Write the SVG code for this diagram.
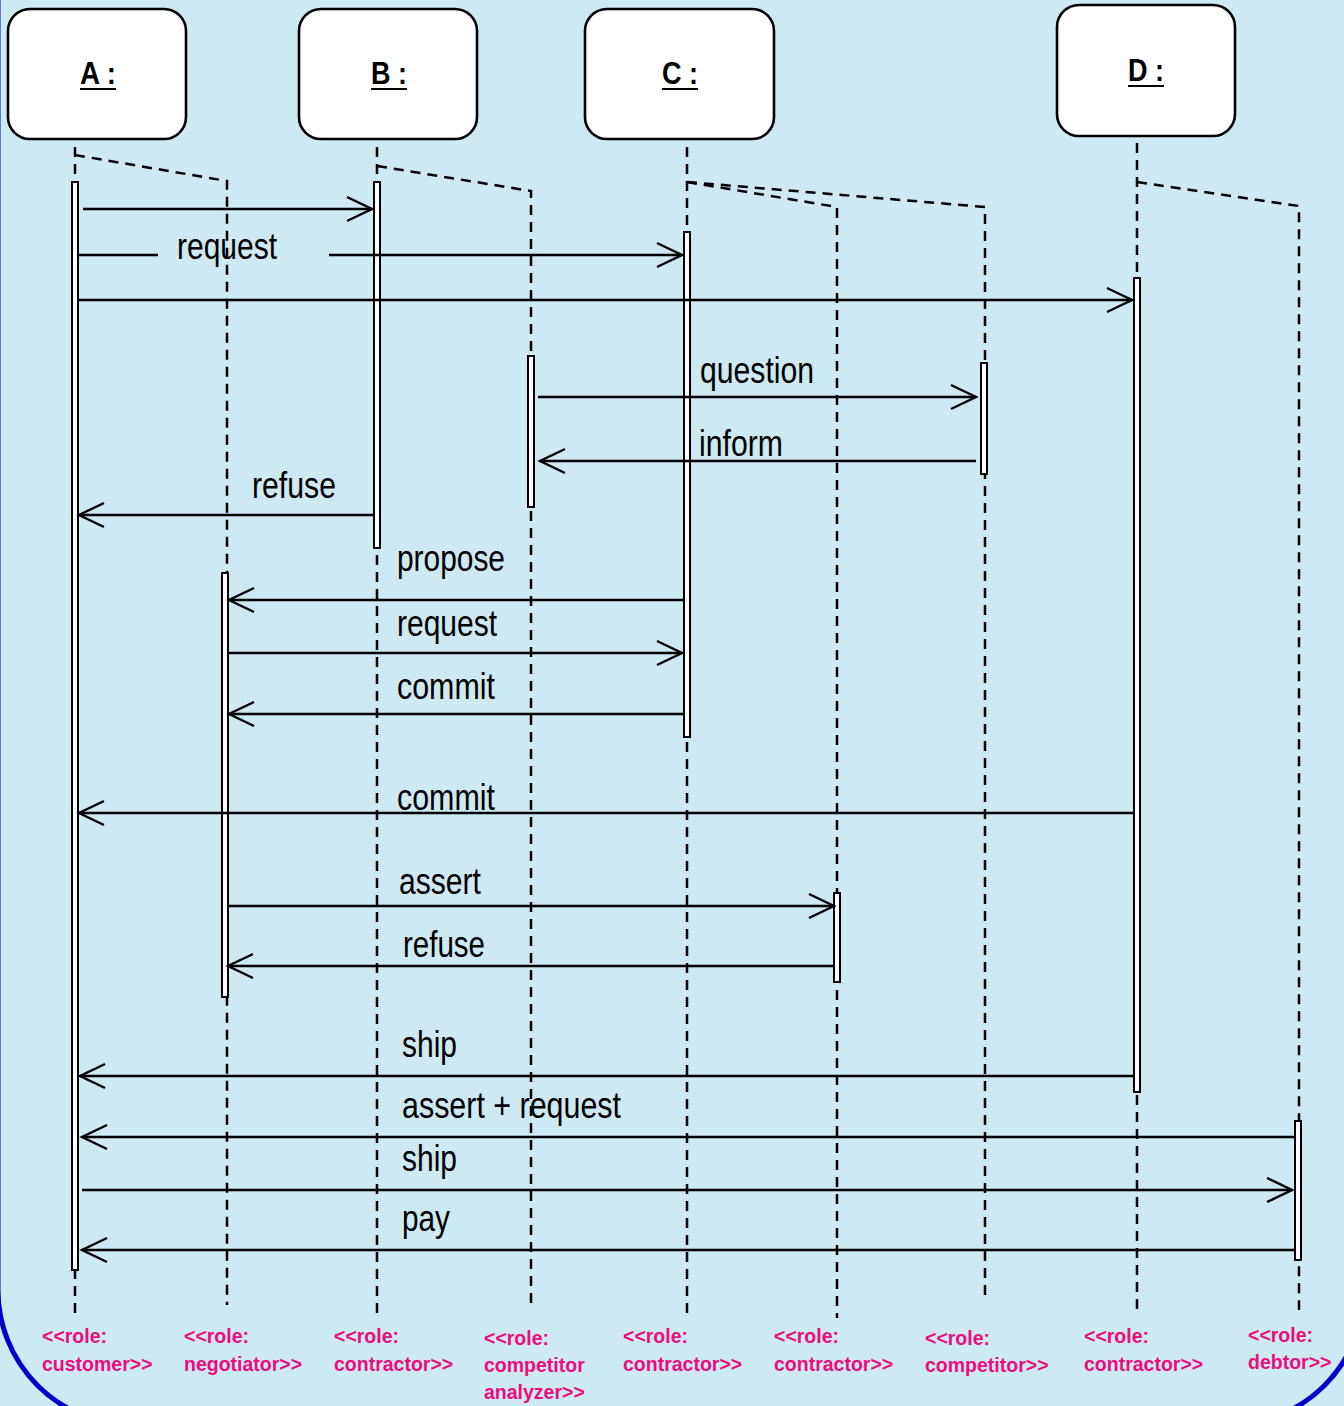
<svg xmlns="http://www.w3.org/2000/svg" width="1344" height="1406" viewBox="0 0 1344 1406">
<style>
.box{fill:#fff;stroke:#000;stroke-width:2.6}
.hdr{font-family:"Liberation Sans",Arial,sans-serif;font-weight:bold;font-size:32px;fill:#000}
.ul{stroke:#000;stroke-width:2.2}
.life{fill:none;stroke:#000;stroke-width:2.5;stroke-dasharray:10 7}
.act{fill:#fff;stroke:#000;stroke-width:2}
.msg{fill:none;stroke:#000;stroke-width:2.3}
.arr{marker-end:url(#ah)}
.lbl{font-family:"Liberation Sans",Arial,sans-serif;font-size:36px;fill:#000}
.role{font-family:"Liberation Sans",Arial,sans-serif;font-weight:bold;font-size:19.5px;fill:#EC0C7E}
</style>
<defs>
<marker id="ah" markerUnits="userSpaceOnUse" markerWidth="32" markerHeight="32" viewBox="-28 -16 32 32" refX="0" refY="0" orient="auto">
<path d="M-25,-12 L0,0 L-25,12" fill="none" stroke="#000" stroke-width="2.4"/>
</marker>
</defs>
<rect x="0" y="0" width="1344" height="1406" fill="#CDE9F1"/>
<rect x="-2" y="-300" width="1366" height="1725" rx="135" ry="135" fill="none" stroke="#0000CC" stroke-width="5"/>

<g id="lifelines">
<path class="life" d="M75,147 V1313"/>
<path class="life" d="M75,155 L227,181 V1305"/>
<path class="life" d="M377,147 V1313"/>
<path class="life" d="M377,166 L531,191 V1303"/>
<path class="life" d="M687,147 V1313"/>
<path class="life" d="M687,182 L837,207 V1318"/>
<path class="life" d="M687,182 L985,207 V1302"/>
<path class="life" d="M1137,143 V1310"/>
<path class="life" d="M1137,182 L1299,206 V1310"/>
</g>

<g id="node-A">
<rect class="box" x="8" y="9" width="178" height="130" rx="22"/>
<text class="hdr" x="80" y="84" textLength="36" lengthAdjust="spacingAndGlyphs">A :</text>
<line class="ul" x1="80" y1="89" x2="116" y2="89"/>
</g>
<g id="node-B">
<rect class="box" x="299" y="9" width="178" height="130" rx="22"/>
<text class="hdr" x="371" y="84" textLength="36" lengthAdjust="spacingAndGlyphs">B :</text>
<line class="ul" x1="371" y1="89" x2="407" y2="89"/>
</g>
<g id="node-C">
<rect class="box" x="585" y="9" width="189" height="130" rx="22"/>
<text class="hdr" x="662" y="84" textLength="36" lengthAdjust="spacingAndGlyphs">C :</text>
<line class="ul" x1="662" y1="89" x2="698" y2="89"/>
</g>
<g id="node-D">
<rect class="box" x="1057" y="5" width="178" height="131" rx="22"/>
<text class="hdr" x="1128" y="81" textLength="36" lengthAdjust="spacingAndGlyphs">D :</text>
<line class="ul" x1="1128" y1="86" x2="1164" y2="86"/>
</g>

<g id="activations">
<rect class="act" x="72" y="182" width="6" height="1088"/>
<rect class="act" x="374" y="182" width="6" height="366"/>
<rect class="act" x="528" y="356" width="6" height="151"/>
<rect class="act" x="684" y="232" width="6" height="505"/>
<rect class="act" x="981" y="363" width="6" height="111"/>
<rect class="act" x="1134" y="278" width="6" height="814"/>
<rect class="act" x="222" y="573" width="6" height="424"/>
<rect class="act" x="834" y="893" width="6" height="89"/>
<rect class="act" x="1295" y="1121" width="6" height="139"/>
</g>

<g id="connectors">
<line class="msg arr" x1="83" y1="209" x2="372" y2="209"/>
<line class="msg" x1="79" y1="255" x2="158" y2="255"/>
<line class="msg arr" x1="329" y1="255" x2="682" y2="255"/>
<line class="msg arr" x1="79" y1="300" x2="1132" y2="300"/>
<line class="msg arr" x1="538" y1="397" x2="976" y2="397"/>
<line class="msg arr" x1="976" y1="461" x2="540" y2="461"/>
<line class="msg arr" x1="374" y1="515" x2="79" y2="515"/>
<line class="msg arr" x1="684" y1="600" x2="229" y2="600"/>
<line class="msg arr" x1="229" y1="653" x2="682" y2="653"/>
<line class="msg arr" x1="684" y1="714" x2="229" y2="714"/>
<line class="msg arr" x1="1134" y1="813" x2="79" y2="813"/>
<line class="msg arr" x1="229" y1="906" x2="834" y2="906"/>
<line class="msg arr" x1="834" y1="966" x2="228" y2="966"/>
<line class="msg arr" x1="1134" y1="1076" x2="80" y2="1076"/>
<line class="msg arr" x1="1295" y1="1137" x2="82" y2="1137"/>
<line class="msg arr" x1="82" y1="1190" x2="1292" y2="1190"/>
<line class="msg arr" x1="1295" y1="1250" x2="82" y2="1250"/>
</g>

<g id="labels">
<text class="lbl" x="177" y="259" textLength="100" lengthAdjust="spacingAndGlyphs">request</text>
<text class="lbl" x="700" y="383" textLength="114" lengthAdjust="spacingAndGlyphs">question</text>
<text class="lbl" x="699" y="456" textLength="84" lengthAdjust="spacingAndGlyphs">inform</text>
<text class="lbl" x="252" y="498" textLength="84" lengthAdjust="spacingAndGlyphs">refuse</text>
<text class="lbl" x="397" y="571" textLength="108" lengthAdjust="spacingAndGlyphs">propose</text>
<text class="lbl" x="397" y="636" textLength="100" lengthAdjust="spacingAndGlyphs">request</text>
<text class="lbl" x="397" y="699" textLength="98" lengthAdjust="spacingAndGlyphs">commit</text>
<text class="lbl" x="397" y="810" textLength="98" lengthAdjust="spacingAndGlyphs">commit</text>
<text class="lbl" x="399" y="894" textLength="82" lengthAdjust="spacingAndGlyphs">assert</text>
<text class="lbl" x="403" y="957" textLength="82" lengthAdjust="spacingAndGlyphs">refuse</text>
<text class="lbl" x="402" y="1057" textLength="55" lengthAdjust="spacingAndGlyphs">ship</text>
<text class="lbl" x="402" y="1118" textLength="219" lengthAdjust="spacingAndGlyphs">assert + request</text>
<text class="lbl" x="402" y="1171" textLength="55" lengthAdjust="spacingAndGlyphs">ship</text>
<text class="lbl" x="402" y="1231" textLength="48" lengthAdjust="spacingAndGlyphs">pay</text>
</g>

<g id="roles">
<text class="role" x="42" y="1343">&lt;&lt;role:<tspan x="42" y="1371">customer&gt;&gt;</tspan></text>
<text class="role" x="184" y="1343">&lt;&lt;role:<tspan x="184" y="1371">negotiator&gt;&gt;</tspan></text>
<text class="role" x="334" y="1343">&lt;&lt;role:<tspan x="334" y="1371">contractor&gt;&gt;</tspan></text>
<text class="role" x="484" y="1345">&lt;&lt;role:<tspan x="484" y="1372">competitor</tspan><tspan x="484" y="1399">analyzer&gt;&gt;</tspan></text>
<text class="role" x="623" y="1343">&lt;&lt;role:<tspan x="623" y="1371">contractor&gt;&gt;</tspan></text>
<text class="role" x="774" y="1343">&lt;&lt;role:<tspan x="774" y="1371">contractor&gt;&gt;</tspan></text>
<text class="role" x="925" y="1345">&lt;&lt;role:<tspan x="925" y="1372">competitor&gt;&gt;</tspan></text>
<text class="role" x="1084" y="1343">&lt;&lt;role:<tspan x="1084" y="1371">contractor&gt;&gt;</tspan></text>
<text class="role" x="1248" y="1342">&lt;&lt;role:<tspan x="1248" y="1369">debtor&gt;&gt;</tspan></text>
</g>
</svg>
